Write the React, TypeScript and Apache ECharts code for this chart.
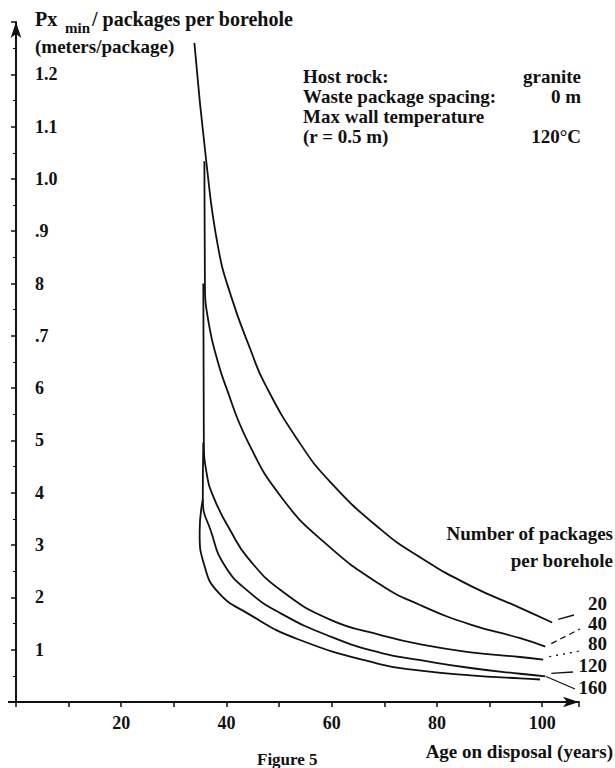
import React, { useEffect, useRef } from "react";
import * as echarts from "echarts";

// ---- data ----
const packageCounts = ["20", "40", "80", "120", "160"];

const ages20 = [33.9, 36.2, 38.4, 40.9, 44.7, 47.2, 53.6, 59.8, 69.3, 76.9, 86.4, 95.8, 101.9];
const vals20 = [1.26, 1.03, 0.87, 0.775, 0.67, 0.61, 0.5, 0.42, 0.33, 0.276, 0.222, 0.18, 0.152];

const ages40 = [35.8, 35.9, 36.7, 38.4, 39.6, 44.1, 50.4, 58.5, 69.3, 76.9, 86.4, 95.8, 100.6];
const vals40 = [1.034, 0.8, 0.72, 0.649, 0.611, 0.497, 0.392, 0.306, 0.224, 0.185, 0.148, 0.122, 0.106];

const ages80 = [35.6, 35.7, 36.2, 37.7, 40.9, 44.1, 50.4, 59.8, 69.3, 76.9, 86.4, 95.8, 100.2];
const vals80 = [0.8, 0.5, 0.439, 0.388, 0.325, 0.275, 0.213, 0.157, 0.128, 0.11, 0.095, 0.086, 0.081];

const ages120 = [35.6, 35.5, 37.1, 39.6, 44.1, 50.4, 59.8, 69.3, 76.9, 86.4, 95.8, 100.6];
const vals120 = [0.496, 0.387, 0.325, 0.262, 0.212, 0.169, 0.125, 0.094, 0.08, 0.065, 0.054, 0.049];

const ages160 = [35.5, 34.9, 35.8, 38.4, 44.1, 53.6, 69.3, 76.9, 86.4, 95.8, 99.6];
const vals160 = [0.387, 0.325, 0.261, 0.21, 0.169, 0.12, 0.072, 0.06, 0.051, 0.045, 0.043];

const xTickValues = [20, 40, 60, 80, 100];
const xTickLabels = ["20", "40", "60", "80", "100"];
const yTickValues = [12, 11, 10, 9, 8, 7, 6, 5, 4, 3, 2, 1]; // tenths of a metre
const yTickLabels = ["1.2", "1.1", "1.0", ".9", "8", ".7", "6", "5", "4", "3", "2", "1"];

const infoLabels = ["Host rock:", "Waste package spacing:", "Max wall temperature", "(r = 0.5 m)"];
const infoValues = ["granite", "0 m", "", "120°C"];

const FONT = "'Liberation Serif', 'Times New Roman', serif";
const INK = "#111";

export default function App() {
  const ref = useRef<HTMLDivElement>(null);

  useEffect(() => {
    document.body.style.margin = "0";
    if (!ref.current) return;
    const chart = echarts.init(ref.current, undefined, { renderer: "svg" });

    const curves = [
      [ages20, vals20],
      [ages40, vals40],
      [ages80, vals80],
      [ages120, vals120],
      [ages160, vals160],
    ];

    const txt = (text: string, x: number, y: number, size: number, align = "left", extra: any = {}) => ({
      type: "text",
      x,
      y,
      silent: true,
      style: {
        text,
        fill: INK,
        font: `bold ${size}px ${FONT}`,
        textAlign: align,
        textVerticalAlign: "middle",
        ...extra,
      },
    });

    const labelY = [603, 623, 643, 665, 687];
    const leaderEnds = [
      [574, 615],
      [580, 629],
      [580, 651],
      [573, 672],
      [575, 689],
    ];
    const leaderDash: any[] = [null, [6, 4], [2, 5], null, null];

    const baseGraphic: any[] = [
      txt("Px", 35, 19, 20),
      txt("min", 65, 28, 15),
      txt("/ packages per borehole", 92, 19, 20),
      txt("(meters/package)", 35, 46, 19),
      ...infoLabels.map((t, i) => txt(t, 303, 76 + i * 20, 19)),
      ...infoValues.map((t, i) => txt(t, 581, 76 + i * 20, 19, "right")),
      txt("Number of packages", 613, 533, 19, "right"),
      txt("per borehole", 613, 560, 19, "right"),
      ...packageCounts.map((t, i) => txt(t, 607, labelY[i], 19, "right")),
      txt("Age on disposal (years)", 613, 751, 19, "right"),
      txt("Figure 5", 257, 759, 17, "left"),
      {
        type: "line",
        silent: true,
        shape: { x1: 8, y1: 702, x2: 17, y2: 702 },
        style: { stroke: INK, lineWidth: 2 },
      },
    ];

    const option: any = {
      animation: false,
      backgroundColor: "#fff",
      grid: { left: 16, top: 22, width: 563, height: 680, containLabel: false },
      xAxis: {
        type: "value",
        min: 0,
        max: 107,
        interval: 10,
        axisLine: {
          show: true,
          onZero: false,
          symbol: ["none", "arrow"],
          symbolSize: [8, 16],
          lineStyle: { color: INK, width: 2 },
        },
        axisTick: { show: true, inside: false, length: 5, lineStyle: { color: INK, width: 1.5 } },
        axisLabel: {
          color: INK,
          fontFamily: FONT,
          fontWeight: "bold",
          fontSize: 18,
          margin: 12,
          formatter: (v: number) => {
            const i = xTickValues.indexOf(Math.round(v));
            return i >= 0 && Math.abs(v - Math.round(v)) < 1e-6 ? xTickLabels[i] : "";
          },
        },
        splitLine: { show: false },
      },
      yAxis: {
        type: "value",
        min: 0,
        max: 1.3,
        interval: 0.1,
        axisLine: {
          show: true,
          onZero: false,
          symbol: ["none", "arrow"],
          symbolSize: [8, 16],
          lineStyle: { color: INK, width: 2 },
        },
        axisTick: { show: true, inside: false, length: 5, lineStyle: { color: INK, width: 1.5 } },
        minorTick: { show: true, splitNumber: 2, length: 3, lineStyle: { color: INK, width: 1 } },
        axisLabel: {
          inside: true,
          color: INK,
          fontFamily: FONT,
          fontWeight: "bold",
          fontSize: 18,
          margin: 19,
          formatter: (v: number) => {
            const i = yTickValues.indexOf(Math.round(v * 10));
            return i >= 0 ? yTickLabels[i] : "";
          },
        },
        splitLine: { show: false },
      },
      series: curves.map(([a, v], k) => ({
        name: packageCounts[k],
        type: "line",
        data: a.map((x, i) => [x, v[i]]),
        showSymbol: false,
        symbol: "none",
        smooth: 0.5,
        silent: true,
        lineStyle: { color: INK, width: 1.8 },
      })),
      graphic: baseGraphic,
    };

    chart.setOption(option);

    const leaders = curves.map(([a, v], k) => {
      const n = a.length - 1;
      const p = chart.convertToPixel({ xAxisIndex: 0, yAxisIndex: 0 }, [a[n], v[n]]) as number[];
      return {
        type: "line",
        silent: true,
        shape: { x1: p[0] + 6, y1: p[1] - 3, x2: leaderEnds[k][0], y2: leaderEnds[k][1] },
        style: { stroke: INK, lineWidth: 1.3, lineDash: leaderDash[k] || undefined },
      };
    });

    chart.setOption({ graphic: [...baseGraphic, ...leaders] }, { replaceMerge: ["graphic"] });

    return () => chart.dispose();
  }, []);

  return <div ref={ref} style={{ width: 615, height: 768 }} />;
}
